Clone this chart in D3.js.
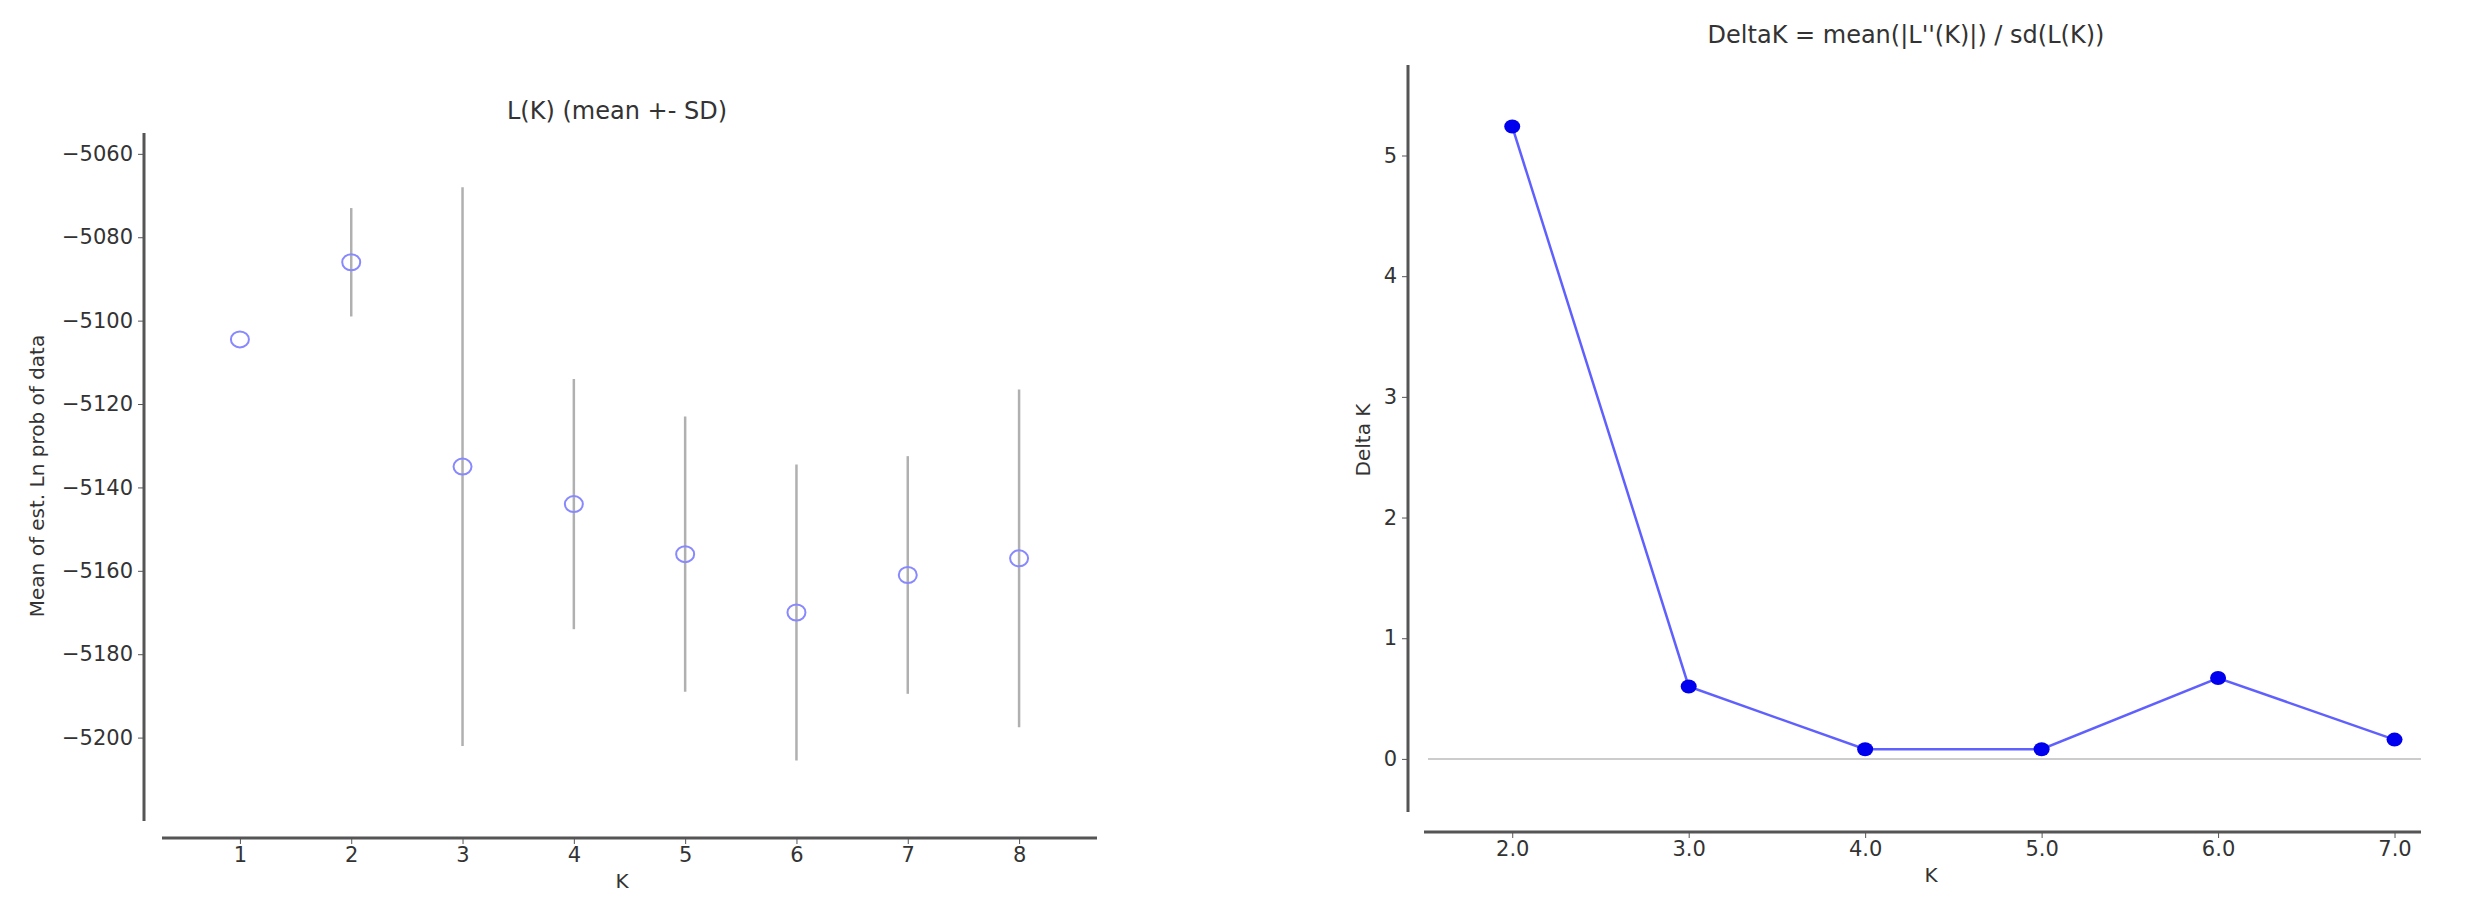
<!DOCTYPE html>
<html><head><meta charset="utf-8">
<script src="https://cdn.jsdelivr.net/npm/d3@7/dist/d3.min.js"></script>
<style>body{margin:0;background:#fff}text{font-family:"DejaVu Sans",sans-serif;fill:#333}</style>
</head><body><svg id="c" width="2469" height="909"></svg>
<script>
const kLeft=[1,2,3,4,5,6,7,8];
const meanL=[-5104.5,-5086,-5135,-5144,-5156,-5170,-5161,-5157];
const sdL=[0,13,67,30,33,35.5,28.5,40.5];
const leftYTicks=[-5060,-5080,-5100,-5120,-5140,-5160,-5180,-5200];
const kRight=[2,3,4,5,6,7];
const deltaK=[5.24,0.6,0.08,0.08,0.67,0.16];
const rightYTicks=[0,1,2,3,4,5];

const svg=d3.select("#c");
function axes(x,y,yAxisX,xAxisY,xt,yt){
  svg.append("line").attr("x1",yAxisX).attr("x2",yAxisX).attr("y1",y.range()[1]).attr("y2",y.range()[0]).attr("stroke","#555").attr("stroke-width",3);
  svg.append("line").attr("x1",x.range()[0]).attr("x2",x.range()[1]).attr("y1",xAxisY).attr("y2",xAxisY).attr("stroke","#555").attr("stroke-width",3);
  const ga=svg.append("g").attr("transform",`translate(${yAxisX},0)`).call(d3.axisLeft(y).tickValues(yt).tickSize(6).tickSizeOuter(0).tickFormat(d=>String(d).replace("-","\u2212")));
  ga.select(".domain").remove();
  ga.selectAll("text").attr("font-size",21).attr("font-family","DejaVu Sans").attr("fill","#333").attr("dx",-2);
  ga.selectAll("line").attr("stroke","#555");
  const gb=svg.append("g").attr("transform",`translate(0,${xAxisY})`).call(d3.axisBottom(x).tickValues(xt).tickSize(6).tickSizeOuter(0));
  gb.select(".domain").remove();
  gb.selectAll("text").attr("font-size",21).attr("font-family","DejaVu Sans").attr("fill","#333");
  gb.selectAll("line").attr("stroke","#555");
}
// Left
const xL=d3.scaleLinear().domain([0.3,8.7]).range([162,1097]);
const yL=d3.scaleLinear().domain([-5220,-5055]).range([821,133]);
axes(xL,yL,144,838,kLeft,leftYTicks);
kLeft.forEach((k,i)=>{
  if(sdL[i]>0) svg.append("line").attr("x1",xL(k)).attr("x2",xL(k)).attr("y1",yL(meanL[i]+sdL[i])).attr("y2",yL(meanL[i]-sdL[i])).attr("stroke","#b0b0b0").attr("stroke-width",2.5);
  svg.append("ellipse").attr("cx",xL(k)).attr("cy",yL(meanL[i])).attr("rx",9).attr("ry",8).attr("fill","none").attr("stroke","#8888ff").attr("stroke-width",2);
});
svg.append("text").attr("x",617).attr("y",119).attr("text-anchor","middle").attr("font-size",24).text("L(K) (mean +- SD)");
svg.append("text").attr("x",622).attr("y",888).attr("text-anchor","middle").attr("font-size",20).text("K");
svg.append("text").attr("transform","translate(44,476) rotate(-90)").attr("text-anchor","middle").attr("font-size",20).attr("font-family","Liberation Sans Narrow, Liberation Sans").text("Mean of est. Ln prob of data");
// Right
const xR=d3.scaleLinear().domain([1.5,7.15]).range([1424,2421]);
const yR=d3.scaleLinear().domain([-0.44,5.75]).range([812,65]);
svg.append("line").attr("x1",1428).attr("x2",2421).attr("y1",yR(0)).attr("y2",yR(0)).attr("stroke","#ccc").attr("stroke-width",2);
axes(xR,yR,1408,832,kRight,rightYTicks);
svg.append("path").datum(kRight.map((k,i)=>[k,deltaK[i]])).attr("d",d3.line().x(d=>xR(d[0])).y(d=>yR(d[1]))).attr("fill","none").attr("stroke","#6060ff").attr("stroke-width",2.5);
kRight.forEach((k,i)=>svg.append("ellipse").attr("cx",xR(k)).attr("cy",yR(deltaK[i])).attr("rx",8).attr("ry",7).attr("fill","#0000ee"));
svg.append("text").attr("x",1906).attr("y",43).attr("text-anchor","middle").attr("font-size",24).text("DeltaK = mean(|L''(K)|) / sd(L(K))");
svg.append("text").attr("x",1931).attr("y",882).attr("text-anchor","middle").attr("font-size",20).text("K");
svg.append("text").attr("transform","translate(1370,440) rotate(-90)").attr("text-anchor","middle").attr("font-size",20).attr("font-family","Liberation Sans Narrow, Liberation Sans").text("Delta K");
</script></body></html>
